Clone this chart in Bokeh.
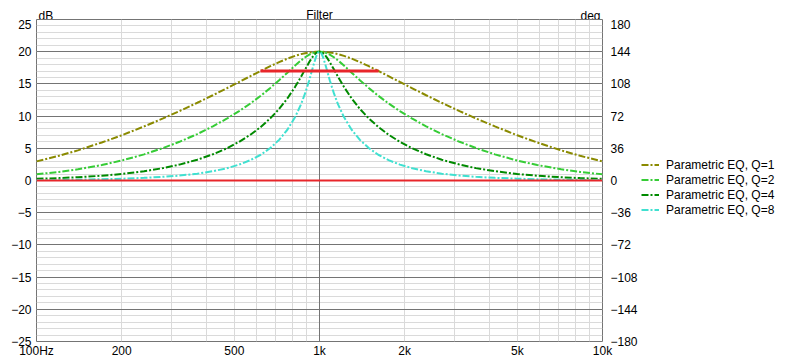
from bokeh.plotting import figure
from bokeh.layouts import row, column
from bokeh.models import (Range1d, LinearAxis, FixedTicker, Grid, Legend,
                          LegendItem, Label)
from bokeh.embed import file_html
from bokeh.resources import INLINE

# ---------------- data ----------------
freq = [100, 120, 140, 170, 200, 240, 280, 320, 370, 420, 470, 520, 570, 620,
        670, 720, 770, 820, 860, 890, 920, 940, 955, 970, 980, 990, 1000,
        1010, 1020, 1031, 1047, 1064, 1087, 1124, 1163, 1220, 1299, 1389,
        1493, 1613, 1754, 1923, 2128, 2381, 2703, 3125, 3571, 4167, 5000,
        5882, 7143, 8333, 10000]

eq_q1 = [2.97, 3.83, 4.68, 5.90, 7.02, 8.40, 9.64, 10.78, 12.07, 13.24, 14.32,
         15.30, 16.20, 17.02, 17.75, 18.39, 18.92, 19.35, 19.62, 19.77, 19.88,
         19.93, 19.96, 19.98, 19.99, 20.00, 20.00,
         20.00, 19.99, 19.98, 19.96, 19.93, 19.88, 19.77, 19.62, 19.35, 18.92,
         18.39, 17.75, 17.02, 16.20, 15.30, 14.32, 13.24, 12.07, 10.78, 9.64,
         8.40, 7.02, 5.90, 4.68, 3.83, 2.97]

eq_q2 = [0.96, 1.33, 1.74, 2.40, 3.10, 4.06, 5.04, 6.01, 7.21, 8.41, 9.59,
         10.78, 11.96, 13.16, 14.37, 15.57, 16.74, 17.85, 18.64, 19.14, 19.54,
         19.74, 19.85, 19.94, 19.97, 19.99, 20.00,
         19.99, 19.97, 19.94, 19.85, 19.74, 19.54, 19.14, 18.64, 17.85, 16.74,
         15.57, 14.37, 13.16, 11.96, 10.78, 9.59, 8.41, 7.21, 6.01, 5.04,
         4.06, 3.10, 2.40, 1.74, 1.33, 0.96]

eq_q4 = [0.26, 0.37, 0.51, 0.74, 1.01, 1.44, 1.92, 2.47, 3.23, 4.07, 4.99,
         6.01, 7.11, 8.32, 9.65, 11.11, 12.74, 14.54, 16.09, 17.27, 18.39,
         19.04, 19.44, 19.75, 19.89, 19.97, 20.00,
         19.97, 19.89, 19.75, 19.44, 19.04, 18.39, 17.27, 16.09, 14.54, 12.74,
         11.11, 9.65, 8.32, 7.11, 6.01, 4.99, 4.07, 3.23, 2.47, 1.92,
         1.44, 1.01, 0.74, 0.51, 0.37, 0.26]

eq_q8 = [0.07, 0.10, 0.13, 0.20, 0.28, 0.41, 0.57, 0.76, 1.06, 1.44, 1.90,
         2.47, 3.16, 4.00, 5.04, 6.31, 7.88, 9.85, 11.81, 13.56, 15.57,
         17.03, 18.11, 19.07, 19.56, 19.89, 20.00,
         19.89, 19.56, 19.07, 18.11, 17.03, 15.57, 13.56, 11.81, 9.85, 7.88,
         6.31, 5.04, 4.00, 3.16, 2.47, 1.90, 1.44, 1.06, 0.76, 0.57,
         0.41, 0.28, 0.20, 0.13, 0.10, 0.07]

series_names = ["Parametric EQ, Q=1", "Parametric EQ, Q=2",
                "Parametric EQ, Q=4", "Parametric EQ, Q=8"]
series_values = [eq_q1, eq_q2, eq_q4, eq_q8]
series_colors = ["#8a8a00", "#36cc36", "#008a00", "#40e0d0"]

zero_line_freq = [100, 10000]
zero_line_db = [0, 0]
bw_line_freq = [618, 1618]
bw_line_db = [17, 17]

x_tick_values = [100, 200, 500, 1000, 2000, 5000, 10000]
x_tick_labels = ["100Hz", "200", "500", "1k", "2k", "5k", "10k"]
x_minor_grid = [200, 300, 400, 500, 600, 700, 800, 900,
                2000, 3000, 4000, 5000, 6000, 7000, 8000, 9000]
x_major_grid = [1000]
db_ticks = [-25, -20, -15, -10, -5, 0, 5, 10, 15, 20, 25]
db_minor_grid = list(range(-24, 25))
db_major_grid = [-20, -15, -10, -5, 0, 5, 10, 15, 20]
deg_ticks = [-180, -144, -108, -72, -36, 0, 36, 72, 108, 144, 180]

title_text = "Filter"
left_unit = "dB"
right_unit = "deg"

FONT = "Liberation Sans"
TXT = "#000000"
DASH = "7 2 2 2"

x_range = Range1d(100, 10000)

# ---------------- header strip (title and unit labels) ----------------
HDR_H = 25
OVERLAP = HDR_H - 19
hdr = figure(width=640, height=HDR_H, x_axis_type="log", x_range=x_range,
             y_range=Range1d(0, 1), output_backend="svg",
             toolbar_location=None, x_axis_location=None,
             y_axis_location=None, min_border_left=36, min_border_right=36,
             min_border_top=0, min_border_bottom=0, outline_line_color=None)
hdr.grid.visible = False
for txt, xv, align, dx, dy in [(left_unit, 100, "left", 2, OVERLAP + 4),
                               (right_unit, 10000, "right", -2, OVERLAP + 4),
                               (title_text, 1000, "center", 0, OVERLAP + 5)]:
    hdr.add_layout(Label(x=xv, y=0, text=txt, x_offset=dx, y_offset=dy,
                         text_align=align, text_baseline="alphabetic",
                         text_font=FONT, text_font_size="12px",
                         text_color=TXT))

# ---------------- main chart ----------------
p = figure(width=640, height=341, x_axis_type="log",
           x_range=x_range, y_range=Range1d(-25, 25),
           output_backend="svg", toolbar_location=None,
           min_border_left=36, min_border_right=36,
           min_border_top=0, min_border_bottom=16)
p.styles = {"margin-top": f"-{OVERLAP}px"}
p.outline_line_color = "#747474"
p.outline_line_width = 1
p.background_fill_color = "white"
p.border_fill_color = "white"
p.xgrid.visible = False
p.ygrid.visible = False

p.add_layout(Grid(dimension=0, ticker=FixedTicker(ticks=x_minor_grid),
                  grid_line_color="#dadada"))
p.add_layout(Grid(dimension=1, ticker=FixedTicker(ticks=db_minor_grid),
                  grid_line_color="#dadada"))
p.add_layout(Grid(dimension=0, ticker=FixedTicker(ticks=x_major_grid),
                  grid_line_color="#747474"))
p.add_layout(Grid(dimension=1, ticker=FixedTicker(ticks=db_major_grid),
                  grid_line_color="#747474"))

def style_axis(ax, standoff):
    ax.axis_line_color = None
    ax.major_tick_line_color = None
    ax.minor_tick_line_color = None
    ax.major_tick_out = 0
    ax.major_tick_in = 0
    ax.minor_tick_out = 0
    ax.minor_tick_in = 0
    ax.major_label_standoff = standoff
    ax.major_label_text_font = FONT
    ax.major_label_text_font_size = "12px"
    ax.major_label_text_color = TXT

xa = p.xaxis[0]
xa.ticker = FixedTicker(ticks=x_tick_values, minor_ticks=[])
xa.major_label_overrides = {v: t for v, t in zip(x_tick_values, x_tick_labels)}
style_axis(xa, 2)

ya = p.yaxis[0]
ya.ticker = FixedTicker(ticks=db_ticks, minor_ticks=[])
style_axis(ya, 5)

p.extra_y_ranges = {"deg": Range1d(-180, 180)}
ra = LinearAxis(y_range_name="deg", ticker=FixedTicker(ticks=deg_ticks, minor_ticks=[]))
style_axis(ra, 8)
p.add_layout(ra, "right")

for vals, col in zip(series_values, series_colors):
    p.line(freq, vals, line_color=col, line_width=2, line_dash=DASH)

p.line(zero_line_freq, zero_line_db, line_color="#e8262b", line_width=2)
p.line(bw_line_freq, bw_line_db, line_color="#e8262b", line_width=3)

# ---------------- legend panel ----------------
lg = figure(width=164, height=360, x_range=Range1d(0, 1), y_range=Range1d(-1, 0),
            output_backend="svg", toolbar_location=None,
            x_axis_location=None, y_axis_location=None,
            min_border=0, outline_line_color=None)
lg.grid.visible = False
items = []
for name, vals, col in zip(series_names, series_values, series_colors):
    # same series, lying outside this panel's ranges: only the legend shows
    r = lg.line(freq, vals, line_color=col, line_width=2, line_dash=DASH)
    items.append(LegendItem(label=name, renderers=[r]))
legend = Legend(items=items, location=(1, 143), padding=0, margin=0,
                spacing=0, glyph_width=18, glyph_height=15, label_height=15,
                label_standoff=7, border_line_color=None,
                background_fill_alpha=0, label_text_font=FONT,
                label_text_font_size="12px", label_text_color=TXT)
lg.add_layout(legend)

layout = row(column(hdr, p), lg)
open("out.html", "w").write(file_html(layout, INLINE))
